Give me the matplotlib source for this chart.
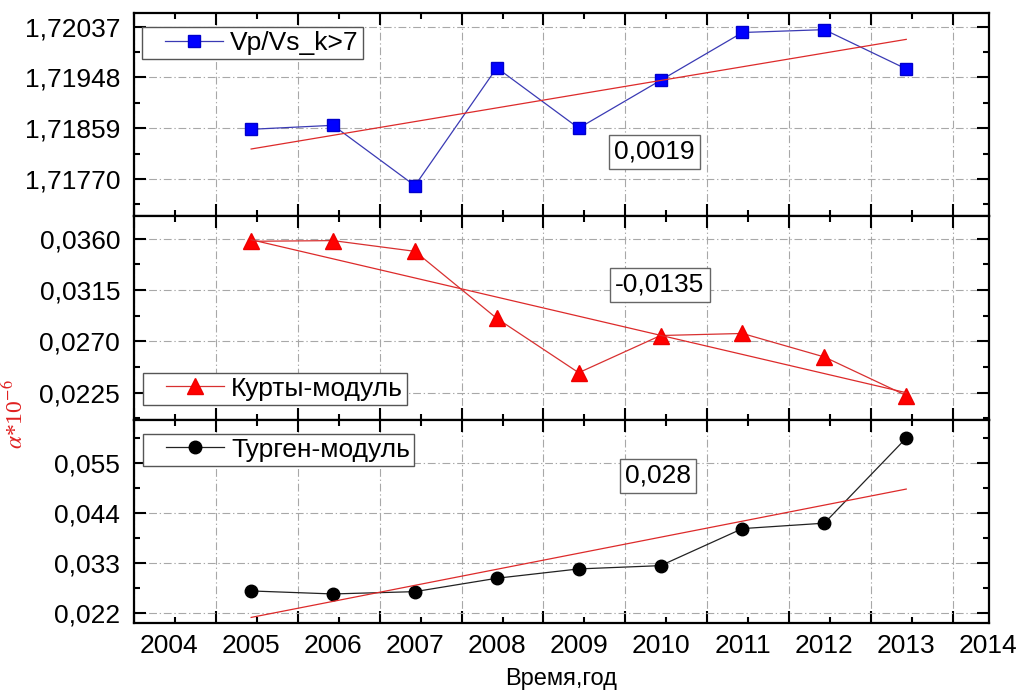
import numpy as np
import matplotlib
matplotlib.use("Agg")
import matplotlib.pyplot as plt
from matplotlib.ticker import MultipleLocator, AutoMinorLocator, FuncFormatter
from matplotlib.legend_handler import HandlerLine2D
from matplotlib.lines import Line2D

plt.rcParams['font.family'] = ['Liberation Sans', 'DejaVu Sans']
plt.rcParams['mathtext.fontset'] = 'stix'

# годы наблюдений
years = np.arange(2005, 2014)
year_labels = np.arange(2004, 2015)

# Vp/Vs при k>7
vpvs = [1.71857, 1.71864, 1.71758, 1.71965, 1.71859, 1.71943, 1.72027, 1.72032, 1.71963]
# Курты-модуль
kurty = [0.03576, 0.03582, 0.03488, 0.02900, 0.02424, 0.02750, 0.02768, 0.02562, 0.02224]
# Тургенский модуль
turgen = [0.02684, 0.02618, 0.02669, 0.02963, 0.03168, 0.03240, 0.04054, 0.04173, 0.06043]

# подписи к трендам
slopes = ["0,0019", "-0,0135", "0,028"]

vpvs_ticks = [1.71770, 1.71859, 1.71948, 1.72037]
kurty_ticks = [0.0225, 0.0270, 0.0315, 0.0360]
turgen_ticks = [0.022, 0.033, 0.044, 0.055]

FS = 19

fig, axes = plt.subplots(3, 1, figsize=(10.28, 6.95), dpi=100, sharex=True)
fig.subplots_adjust(left=0.1304, right=0.962, bottom=0.1036, top=0.9811, hspace=0)

grid_kw = dict(color="#a8a8a8", linestyle=(0, (7, 2.5, 1.2, 2.5)), linewidth=0.8)


def comma_fmt(nd):
    return FuncFormatter(lambda v, p: f"{v:.{nd}f}".replace(".", ","))


def setup(ax, ticks, ylim, nd):
    ax.set_xlim(2003.57, 2014.01)
    ax.xaxis.set_major_locator(MultipleLocator(1, offset=0.57))
    ax.xaxis.set_minor_locator(MultipleLocator(1, offset=0.07))
    ax.set_yticks(ticks)
    ax.yaxis.set_minor_locator(AutoMinorLocator(2))
    ax.yaxis.set_major_formatter(comma_fmt(nd))
    ax.set_ylim(*ylim)
    ax.tick_params(which="both", direction="in", top=True, right=True, width=1.5,
                   labelbottom=False, labelsize=FS, pad=10)
    ax.tick_params(which="major", length=8.5)
    ax.tick_params(which="minor", length=4.5)
    for s in ax.spines.values():
        s.set_linewidth(1.6)
    ax.grid(True, which="major", **grid_kw)
    ax.set_axisbelow(True)


def trend(ax, y):
    k, b = np.polyfit(years, y, 1)
    ax.plot(years, k * years + b, color="#dd2a2a", linewidth=0.9)


handler = {Line2D: HandlerLine2D(xpad=0.72)}
leg_kw = dict(fontsize=FS, fancybox=False, framealpha=1, edgecolor="#555555",
              borderpad=0.15, handlelength=2.92, handletextpad=0.27,
              borderaxespad=0, handler_map=handler)
box_kw = dict(boxstyle="square,pad=0.2", facecolor="white", edgecolor="#666666", linewidth=1)

# верхняя панель: Vp/Vs
ax1 = axes[0]
setup(ax1, vpvs_ticks, (1.71704, 1.72061), 5)
ax1.plot(years, vpvs, color="#3a3ab4", linewidth=0.9, marker="s", markersize=8,
         markerfacecolor="#0000ff", markeredgecolor="#0000cc", label="Vp/Vs_k>7")
trend(ax1, vpvs)
ax1.legend(loc="upper left", bbox_to_anchor=(0.0094, 0.932), **leg_kw)
ax1.text(0.609, 0.317, slopes[0], transform=ax1.transAxes, fontsize=FS,
         ha="center", va="center", bbox=box_kw)

# средняя панель: Курты
ax2 = axes[1]
setup(ax2, kurty_ticks, (0.02012, 0.03794), 4)
ax2.plot(years, kurty, color="#d83030", linewidth=0.9, marker="^", markersize=11,
         markerfacecolor="#ff0000", markeredgecolor="#ee0000", label="Курты-модуль")
trend(ax2, kurty)
ax2.legend(loc="lower left", bbox_to_anchor=(0.0105, 0.074), **leg_kw)
ax2.text(0.615, 0.663, slopes[1], transform=ax2.transAxes, fontsize=FS,
         ha="center", va="center", bbox=box_kw)

# нижняя панель: Турген
ax3 = axes[2]
setup(ax3, turgen_ticks, (0.0198, 0.06446), 3)
ax3.plot(years, turgen, color="#222222", linewidth=0.9, marker="o", markersize=9,
         markerfacecolor="black", markeredgecolor="black", label="Турген-модуль")
trend(ax3, turgen)
ax3.legend(loc="upper left", bbox_to_anchor=(0.0105, 0.931), **leg_kw)
ax3.text(0.613, 0.724, slopes[2], transform=ax3.transAxes, fontsize=FS,
         ha="center", va="center", bbox=box_kw)

# подписи годов по оси X
sec = ax3.secondary_xaxis("bottom")
sec.set_xticks(year_labels)
sec.xaxis.set_major_formatter(FuncFormatter(lambda v, p: f"{v:.0f}"))
sec.tick_params(length=0, labelsize=FS, pad=8)
for s in sec.spines.values():
    s.set_visible(False)
sec.set_xlabel("Время,год", fontsize=17, labelpad=7)

fig.text(15 / 1028, 1 - 414 / 695, r"$\alpha$*10$^{-6}$", rotation=90, color="#e02020",
         fontsize=17, family="Liberation Serif", ha="center", va="center")

fig.savefig("out.png", dpi=100)
